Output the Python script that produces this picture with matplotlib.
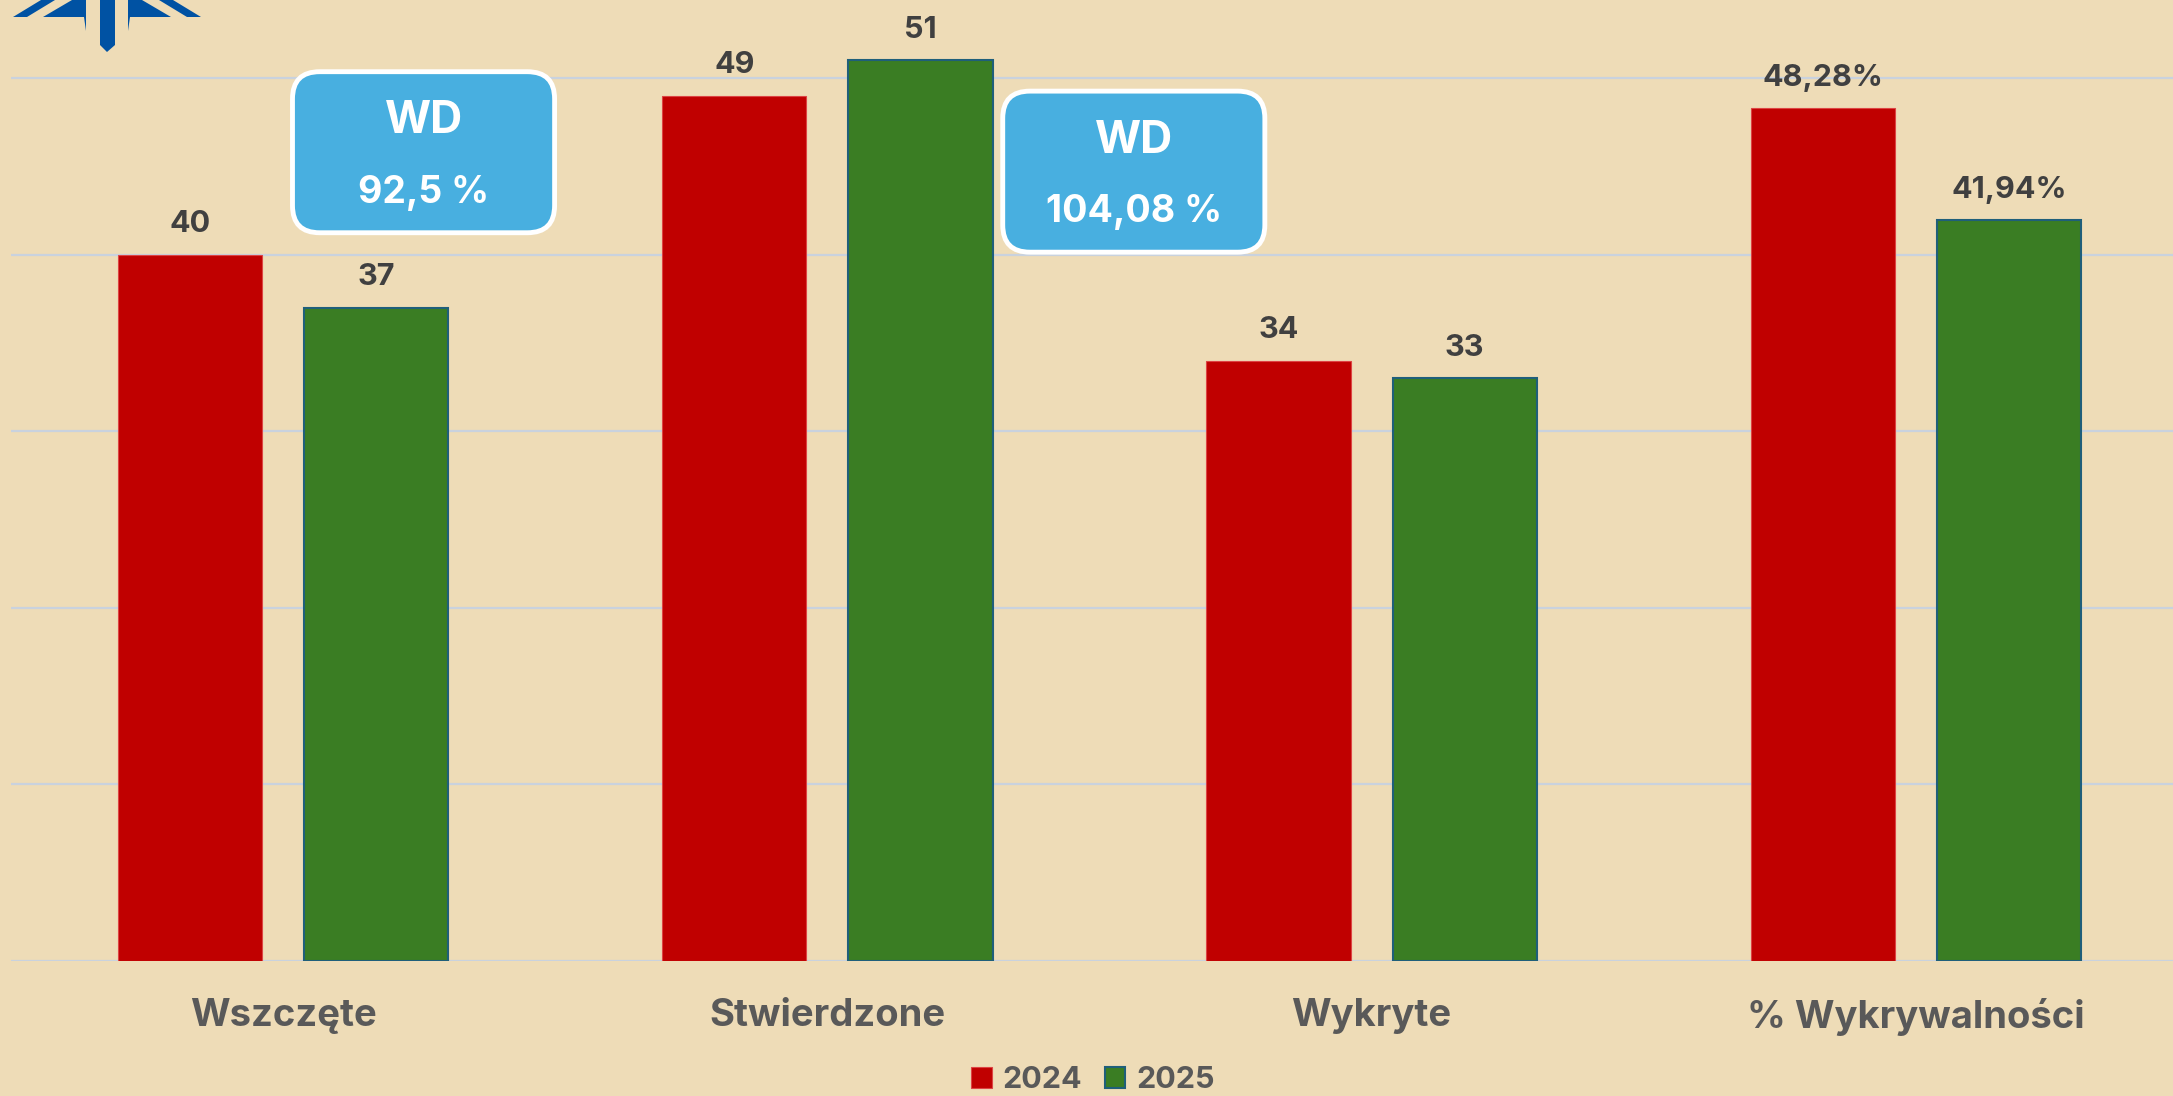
import numpy as np
import matplotlib.pyplot as plt
from matplotlib.patches import FancyBboxPatch, Polygon

plt.rcParams['font.family'] = ['Inter', 'DejaVu Sans']

# data
categories = ["Wszczęte", "Stwierdzone", "Wykryte", "% Wykrywalności"]
values_2024 = [40, 49, 34, 48.28]
values_2025 = [37, 51, 33, 41.94]
labels_2024 = ["40", "49", "34", "48,28%"]
labels_2025 = ["37", "51", "33", "41,94%"]
series_names = ["2024", "2025"]
wd_labels = ["92,5 %", "104,08 %"]
wd_pos = [(0.258, 45.8), (1.563, 44.7)]

W, H = 2173, 1096
bg = '#EEDCB7'
fig = plt.figure(figsize=(W / 100, H / 100), dpi=100, facecolor=bg)
ax = fig.add_axes([11 / W, 135 / H, 2177 / W, 961 / H])
ax.set_facecolor('none')

x = np.arange(len(categories))
bw = 0.265
off = 0.171
b1 = ax.bar(x - off, values_2024, bw, color='#C00000', edgecolor='#D44', linewidth=0.8,
            label=series_names[0], zorder=3)
b2 = ax.bar(x + off, values_2025, bw, color='#3A7D23', edgecolor='#1F5F7A', linewidth=1.5,
            label=series_names[1], zorder=3)

for bars, labs in ((b1, labels_2024), (b2, labels_2025)):
    for r, t in zip(bars, labs):
        ax.annotate(t, (r.get_x() + r.get_width() / 2, r.get_height()),
                    xytext=(0, 12), textcoords='offset points', ha='center', va='bottom',
                    fontsize=22, fontweight='bold', color='#404040', zorder=5)

ax.set_xlim(-0.5, 3.5)
ax.set_ylim(0, 54.42)
ax.set_yticks(np.arange(0, 51, 10))
ax.grid(axis='y', color='#C9D2DE', linewidth=1.6, zorder=0)
ax.tick_params(axis='y', left=False, labelleft=False)
ax.tick_params(axis='x', bottom=False, pad=23)
ax.set_xticks(x)
ax.set_xticklabels(categories, fontsize=27.5, fontweight='bold', color='#595959')
for s in ax.spines.values():
    s.set_visible(False)

# WD boxes
bw_box, bh_box = 0.4816, 9.12
for (cx, cy), lab in zip(wd_pos, wd_labels):
    p = FancyBboxPatch((cx - bw_box / 2, cy - bh_box / 2), bw_box, bh_box,
                       boxstyle='round,pad=0,rounding_size=0.05', mutation_aspect=30.8,
                       facecolor='#48AFE0', edgecolor='white', linewidth=3.5, zorder=6,
                       clip_on=False)
    ax.add_patch(p)
    ax.text(cx, cy + 1.75, "WD", ha='center', va='center', fontsize=32, fontweight='bold',
            color='white', zorder=7)
    ax.text(cx, cy - 2.3, lab, ha='center', va='center', fontsize=27, fontweight='bold',
            color='white', zorder=7)

leg = fig.legend(loc='center', bbox_to_anchor=(1093 / W, 1 - 1080 / H), ncol=2,
                 frameon=False, fontsize=22, handlelength=0.67, handleheight=0.67,
                 handletextpad=0.35, columnspacing=0.75)
for t in leg.get_texts():
    t.set_fontweight('bold')
    t.set_color('#595959')

# logo (top-left, partly cut off)
def px(pts):
    return [(a / W, 1 - b / H) for a, b in pts]

logo = '#0052A3'
shapes = [
    [(13, 17), (27, 17), (55, 0), (41, 0)],
    [(43, 17), (84, 17), (86, 31), (86, 0), (72, 0)],
    [(100, 0), (115, 0), (115, 45), (107, 52), (100, 45)],
    [(128, 0), (142, 0), (171, 17), (130, 17), (128, 31)],
    [(159, 0), (173, 0), (201, 17), (187, 17)],
]
for s in shapes:
    fig.patches.append(Polygon(px(s), closed=True, transform=fig.transFigure,
                               facecolor=logo, edgecolor='none'))

fig.savefig('out.png', dpi=100, facecolor=bg)
